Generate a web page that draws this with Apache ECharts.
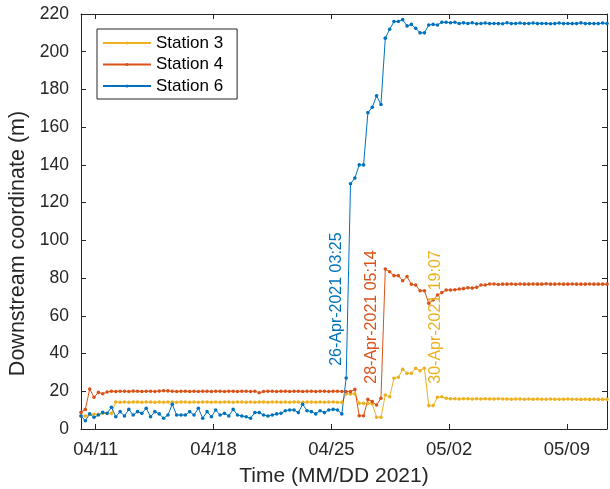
<!DOCTYPE html>
<html>
<head>
<meta charset="utf-8">
<script src="https://cdn.jsdelivr.net/npm/echarts@6/dist/echarts.min.js"></script>
<style>
  html, body { margin: 0; padding: 0; background: #fff; }
  #chart { width: 610px; height: 489px; }
</style>
</head>
<body>
<div id="chart"></div>
<script>
// Survey sampling: first fix and interval between fixes (minutes)
const firstFix = [2021, 3, 10, 3, 0];
const stepMinutes = 372;

// Downstream coordinate (m) of each station at each fix
const station3 = [
  6.9, 6.9, 7.8, 7.8, 7.8, 8.3, 8.3, 8.3, 14.3, 14.2,
  14.3, 14.2, 14.3, 14.3, 14.2, 14.3, 14.3, 14.2, 14.3, 14.2,
  14.3, 14.3, 14.2, 14.3, 14.3, 14.2, 14.3, 14.2, 14.3, 14.3,
  14.2, 14.3, 14.2, 14.3, 14.3, 14.2, 14.3, 14.3, 14.2, 14.3,
  14.2, 14.3, 14.3, 14.2, 14.3, 14.3, 14.2, 14.3, 14.2, 14.3,
  14.3, 14.2, 14.3, 14.3, 14.2, 14.3, 14.2, 14.3, 14.3, 14.2,
  14.1, 18.6, 18.6, 18.6, 13.6, 13.6, 13.6, 13.3, 6.2, 6.2,
  18.0, 17.1, 26.9, 27.4, 31.6, 29.5, 29.5, 32.2, 30.9, 32.2,
  12.4, 12.4, 16.8, 17.1, 16.3, 16.0, 16.0, 15.9, 16.0, 16.0,
  15.9, 16.0, 15.9, 16.0, 15.9, 15.9, 16.0, 15.9, 15.9, 15.8,
  15.9, 15.9, 15.8, 15.9, 15.8, 15.9, 15.8, 15.8, 15.9, 15.8,
  15.8, 15.8, 15.9, 15.8, 15.8, 15.7, 15.8, 15.7, 15.8, 15.7,
  15.7, 15.7
];
const station4 = [
  8.8, 10.4, 21.2, 16.8, 19.4, 18.7, 19.6, 20.0, 19.9, 20.0,
  20.0, 19.9, 20.1, 20.0, 19.9, 20.0, 20.0, 19.9, 20.1, 20.3,
  20.2, 20.0, 19.9, 20.0, 20.0, 19.9, 20.0, 19.9, 20.0, 20.0,
  19.9, 20.0, 20.0, 19.9, 20.0, 20.0, 19.9, 20.0, 20.0, 19.9,
  20.0, 19.2, 19.9, 20.0, 20.0, 19.9, 20.0, 20.0, 19.9, 20.0,
  20.0, 19.9, 20.0, 20.0, 19.9, 20.0, 20.0, 19.9, 20.0, 20.0,
  19.9, 19.9, 19.8, 21.0, 7.0, 7.0, 15.7, 14.5, 12.7, 16.3,
  84.8, 83.4, 81.3, 81.3, 78.6, 80.8, 76.7, 76.3, 73.3, 73.3,
  66.6, 68.4, 71.0, 72.3, 73.7, 73.7, 73.8, 74.2, 74.4, 74.9,
  74.7, 75.1, 76.3, 76.3, 76.9, 76.9, 76.6, 76.8, 76.8, 76.9,
  76.7, 76.9, 76.8, 76.8, 76.9, 76.8, 76.8, 77.0, 76.8, 76.8,
  76.9, 76.8, 76.8, 76.9, 76.8, 76.8, 76.8, 76.9, 76.8, 76.8,
  76.8, 76.8
];
const station6 = [
  6.9, 4.4, 8.0, 6.2, 7.4, 8.8, 8.3, 11.5, 6.5, 9.2,
  6.9, 10.4, 7.4, 9.2, 8.3, 11.0, 6.5, 9.2, 8.0, 5.7,
  7.4, 13.1, 7.4, 7.4, 7.4, 9.2, 7.4, 11.0, 5.7, 9.2,
  6.5, 10.1, 7.4, 8.3, 6.9, 10.4, 7.4, 6.9, 6.5, 5.7,
  8.7, 8.7, 7.4, 6.9, 7.4, 8.0, 8.3, 9.7, 10.1, 10.1,
  8.7, 13.1, 9.7, 9.2, 8.0, 9.7, 8.7, 10.1, 10.4, 10.1,
  8.0, 27.0, 130.0, 133.0, 140.0, 140.0, 167.7, 170.6, 176.6, 172.0,
  207.2, 211.9, 216.0, 216.0, 217.0, 213.7, 214.5, 212.4, 210.0, 210.0,
  214.2, 214.5, 214.2, 215.6, 215.6, 215.4, 215.6, 215.0, 215.3, 215.0,
  215.4, 214.8, 215.0, 215.2, 214.9, 215.0, 214.9, 214.8, 215.4, 214.9,
  215.0, 215.2, 214.9, 215.0, 215.2, 214.9, 215.0, 215.0, 214.8, 214.9,
  215.2, 214.9, 215.0, 214.9, 214.9, 215.3, 214.9, 215.0, 214.9, 214.9,
  215.2, 214.9
];

// Tick dates on the time axis
const tickLabels = ['04/11', '04/18', '04/25', '05/02', '05/09'];
// Start of each failure, per station
const events = [
  { text: '26-Apr-2021 03:25', when: [2021, 3, 26, 3, 25], y: 33.5, dx: -14, color: '#0072BD' },
  { text: '28-Apr-2021 05:14', when: [2021, 3, 28, 5, 14], y: 24, dx: -14, color: '#D95319' },
  { text: '30-Apr-2021 19:07', when: [2021, 3, 30, 19, 7], y: 24, dx: 7, color: '#EDB120' }
];

const FONT = '"Liberation Sans", Arial, Helvetica, sans-serif';
const INK = '#262626';

const start = new Date(...firstFix).getTime();
const times = station3.map((_, i) => start + i * stepMinutes * 60000);
const tickTimes = tickLabels.map(s => {
  const [m, d] = s.split('/').map(Number);
  return new Date(2021, m - 1, d).getTime();
});
const xMin = times[0];
const xMax = times[times.length - 1];

function pad(n) { return (n < 10 ? '0' : '') + n; }

function lineSeries(name, values, color) {
  return {
    name,
    type: 'line',
    data: values.map((v, i) => [times[i], v]),
    color,
    symbol: 'circle',
    symbolSize: 3.6,
    showSymbol: true,
    lineStyle: { width: 1, color },
    itemStyle: { color },
    emphasis: { disabled: true },
    animation: false,
    z: 3
  };
}

const chart = echarts.init(document.getElementById('chart'), null, { renderer: 'canvas' });

const axisLine = { show: true, onZero: false, lineStyle: { color: INK, width: 1 } };
const tickStyle = { show: true, inside: true, length: 5, lineStyle: { color: INK, width: 1 } };

chart.setOption({
  backgroundColor: '#fff',
  animation: false,
  grid: { left: 81, right: 3, top: 14, bottom: 60, containLabel: false, outerBoundsMode: 'none' },
  legend: {
    orient: 'vertical',
    left: 97,
    top: 29,
    padding: [4, 14, 3, 5],
    itemWidth: 48,
    itemHeight: 4,
    itemGap: 1.5,
    backgroundColor: '#fff',
    borderColor: INK,
    borderWidth: 1,
    borderRadius: 0,
    textStyle: { fontFamily: FONT, fontSize: 17, color: '#000', lineHeight: 20 },
    data: ['Station 3', 'Station 4', 'Station 6']
  },
  xAxis: [
    {
      type: 'value',
      min: xMin,
      max: xMax,
      name: 'Time (MM/DD 2021)',
      nameLocation: 'middle',
      nameGap: 37,
      nameTextStyle: { fontFamily: FONT, fontSize: 21, color: INK, padding: [0, 20, 0, 0] },
      axisLine,
      splitLine: { show: false },
      axisTick: Object.assign({}, tickStyle, { customValues: tickTimes }),
      axisLabel: {
        customValues: tickTimes,
        showMinLabel: true, showMaxLabel: true,
        fontFamily: FONT, fontSize: 18.5, color: INK, margin: 11,
        formatter: v => { const d = new Date(v); return pad(d.getMonth() + 1) + '/' + pad(d.getDate()); }
      }
    },
    {
      type: 'value',
      position: 'top',
      min: xMin,
      max: xMax,
      axisLine,
      splitLine: { show: false },
      axisTick: Object.assign({}, tickStyle, { customValues: tickTimes }),
      axisLabel: { show: false, customValues: tickTimes }
    }
  ],
  yAxis: [
    {
      type: 'value',
      min: 0,
      max: 220,
      interval: 20,
      name: 'Downstream coordinate (m)',
      nameLocation: 'middle',
      nameGap: 44,
      nameTextStyle: { fontFamily: FONT, fontSize: 21.5, color: INK, padding: [0, 44, 0, 0] },
      axisLine,
      splitLine: { show: false },
      axisTick: tickStyle,
      axisLabel: { fontFamily: FONT, fontSize: 17.5, color: INK, margin: 12 }
    },
    {
      type: 'value',
      position: 'right',
      min: 0,
      max: 220,
      interval: 20,
      axisLine,
      splitLine: { show: false },
      axisTick: tickStyle,
      axisLabel: { show: false }
    }
  ],
  series: [
    lineSeries('Station 3', station3, '#EDB120'),
    lineSeries('Station 4', station4, '#D95319'),
    lineSeries('Station 6', station6, '#0072BD')
  ]
});

// Rotated event labels, anchored to their event time
chart.setOption({
  graphic: events.map(e => {
    const p = chart.convertToPixel({ gridIndex: 0 }, [new Date(...e.when).getTime(), e.y]);
    return {
      type: 'text',
      x: p[0] + e.dx,
      y: p[1],
      rotation: Math.PI / 2,
      z: 10,
      style: {
        text: e.text,
        fill: e.color,
        font: '16px ' + FONT,
        align: 'left',
        verticalAlign: 'middle'
      }
    };
  })
});
</script>
</body>
</html>
